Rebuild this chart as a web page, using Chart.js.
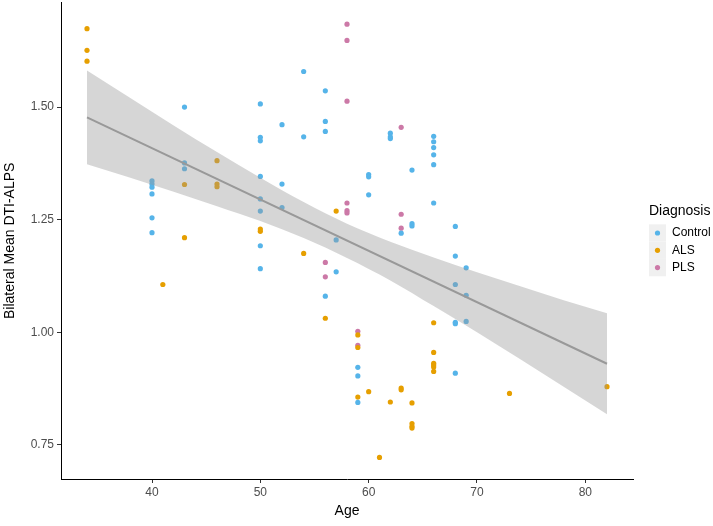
<!DOCTYPE html>
<html>
<head>
<meta charset="utf-8">
<script src="https://cdn.jsdelivr.net/npm/chart.js@4.4.1/dist/chart.umd.min.js"></script>
<style>
  body { margin: 0; background: #fff; }
  #wrap { width: 713px; height: 526px; }
</style>
</head>
<body>
<div id="wrap"><canvas id="myChart" width="713" height="526"></canvas></div>
<script>
// values
const controlAge = [40, 40, 40, 40, 40, 40, 43, 43, 43, 50, 50, 50, 50, 50, 50, 50, 50,
  52, 52, 52, 54, 54, 56, 56, 56, 56, 57, 57, 59, 59, 59, 60, 60, 60, 62, 62, 62, 63,
  64, 64, 64, 66, 66, 66, 66, 66, 66, 68, 68, 68, 68, 68, 68, 69, 69, 69];
const controlVal = [1.336, 1.329, 1.322, 1.307, 1.254, 1.221, 1.500, 1.376, 1.363,
  1.507, 1.433, 1.425, 1.346, 1.296, 1.269, 1.192, 1.141,
  1.461, 1.329, 1.277, 1.579, 1.434, 1.536, 1.468, 1.446, 1.080, 1.205, 1.134,
  0.922, 0.903, 0.844, 1.350, 1.345, 1.305, 1.442, 1.434, 1.430, 1.220,
  1.360, 1.241, 1.236, 1.435, 1.423, 1.410, 1.394, 1.372, 1.287,
  1.235, 1.169, 1.106, 1.022, 1.019, 0.909, 1.143, 1.082, 1.024];

const alsAge = [34, 34, 34, 41, 43, 43, 46, 46, 46, 50, 50, 54, 56, 57, 59, 59, 59,
  60, 61, 62, 63, 63, 64, 64, 64, 64, 66, 66, 66, 66, 66, 66, 73, 82];
const alsVal = [1.674, 1.626, 1.602, 1.106, 1.328, 1.210, 1.381, 1.329, 1.323,
  1.229, 1.224, 1.175, 1.031, 1.269, 0.994, 0.966, 0.856,
  0.868, 0.722, 0.845, 0.876, 0.872, 0.843, 0.797, 0.791, 0.787,
  1.021, 0.955, 0.931, 0.927, 0.923, 0.913, 0.864, 0.879];

const plsAge = [56, 56, 58, 58, 58, 58, 58, 58, 59, 59, 63, 63, 63];
const plsVal = [1.155, 1.123, 1.684, 1.648, 1.513, 1.287, 1.270, 1.265,
  1.002, 0.971, 1.455, 1.262, 1.231];

// fitted line and its confidence band
const fitAge = [34, 82];
const fitVal = [1.477, 0.930];
const bandAge = [34, 38, 42, 46, 50, 54, 58, 62, 66, 70, 74, 78, 82];
const bandUpper = [1.581, 1.520, 1.459, 1.400, 1.343, 1.289, 1.241, 1.201, 1.166, 1.133, 1.102, 1.071, 1.042];
const bandLower = [1.373, 1.343, 1.312, 1.280, 1.247, 1.209, 1.165, 1.115, 1.058, 1.000, 0.940, 0.879, 0.818];

const xTicks = [40, 50, 60, 70, 80];
const yTicks = [0.75, 1.00, 1.25, 1.50];

const groups = ["Control", "ALS", "PLS"];
const groupColors = ["#56B4E9", "#E69F00", "#CC79A7"];

const toPoints = (xs, ys) => xs.map((x, i) => ({ x: x, y: ys[i] }));

const FONT = "'Liberation Sans', Arial, sans-serif";

const pointSet = (label, xs, ys, color) => ({
  label: label,
  data: toPoints(xs, ys),
  backgroundColor: color,
  borderWidth: 0,
  pointRadius: 2.6,
  pointHoverRadius: 2.6,
  order: 3
});

// draws the ggplot-like legend on the right
const legendPlugin = {
  id: "sideLegend",
  afterDraw(chart) {
    const ctx = chart.ctx;
    ctx.save();
    ctx.textBaseline = "middle";
    ctx.textAlign = "left";
    ctx.fillStyle = "#000";
    ctx.font = "14px " + FONT;
    ctx.fillText("Diagnosis", 649, 211);
    groups.forEach((g, i) => {
      const cy = 233 + i * 17.3;
      ctx.fillStyle = "#f0f0f0";
      ctx.fillRect(649, cy - 8.65, 17, 17.3);
      ctx.fillStyle = groupColors[i];
      ctx.beginPath();
      ctx.arc(657.5, cy, 2.6, 0, Math.PI * 2);
      ctx.fill();
      ctx.fillStyle = "#000";
      ctx.font = "12px " + FONT;
      ctx.fillText(g, 672, cy);
    });
    ctx.restore();
  }
};

const ctx = document.getElementById("myChart").getContext("2d");
const myChart = new Chart(ctx, {
  type: "scatter",
  data: {
    datasets: [
      pointSet(groups[0], controlAge, controlVal, groupColors[0]),
      pointSet(groups[1], alsAge, alsVal, groupColors[1]),
      pointSet(groups[2], plsAge, plsVal, groupColors[2]),
      {
        label: "upper",
        data: toPoints(bandAge, bandUpper),
        showLine: true,
        borderWidth: 0,
        pointRadius: 0,
        cubicInterpolationMode: "monotone",
        backgroundColor: "rgba(153,153,153,0.4)",
        fill: "+1",
        order: 2
      },
      {
        label: "lower",
        data: toPoints(bandAge, bandLower),
        showLine: true,
        borderWidth: 0,
        pointRadius: 0,
        cubicInterpolationMode: "monotone",
        fill: false,
        order: 2
      },
      {
        label: "fit",
        data: toPoints(fitAge, fitVal),
        showLine: true,
        borderColor: "#999999",
        borderWidth: 2,
        pointRadius: 0,
        fill: false,
        order: 1
      }
    ]
  },
  options: {
    responsive: false,
    animation: false,
    layout: { padding: { top: 2, right: 80, left: 0, bottom: 0 } },
    plugins: {
      legend: { display: false },
      tooltip: { enabled: false }
    },
    scales: {
      x: {
        type: "linear",
        min: 31.6,
        max: 84.4,
        afterBuildTicks: (scale) => { scale.ticks = xTicks.map(v => ({ value: v })); },
        afterFit: (scale) => { scale.height = 47; scale.paddingLeft = 0; scale.paddingRight = 0; },
        ticks: { color: "#4d4d4d", font: { family: FONT, size: 12 }, padding: 2 },
        grid: { display: true, drawOnChartArea: false, drawTicks: true, tickLength: 4, color: "#333" },
        border: { display: true, color: "#000", width: 1 },
        title: { display: true, text: "Age", color: "#000", font: { family: FONT, size: 14 }, padding: { top: 0, bottom: 6 } }
      },
      y: {
        type: "linear",
        min: 0.674,
        max: 1.732,
        afterBuildTicks: (scale) => { scale.ticks = yTicks.map(v => ({ value: v })); },
        afterFit: (scale) => { scale.width = 61; scale.paddingTop = 0; scale.paddingBottom = 0; },
        ticks: {
          color: "#4d4d4d",
          font: { family: FONT, size: 12 },
          padding: 3,
          callback: (v) => Number(v).toFixed(2)
        },
        grid: { display: true, drawOnChartArea: false, drawTicks: true, tickLength: 4, color: "#333" },
        border: { display: true, color: "#000", width: 1 },
        title: { display: true, text: "Bilateral Mean DTI-ALPS", color: "#000", font: { family: FONT, size: 14 }, padding: { top: 2, bottom: 0 } }
      }
    }
  },
  plugins: [legendPlugin]
});
</script>
</body>
</html>
